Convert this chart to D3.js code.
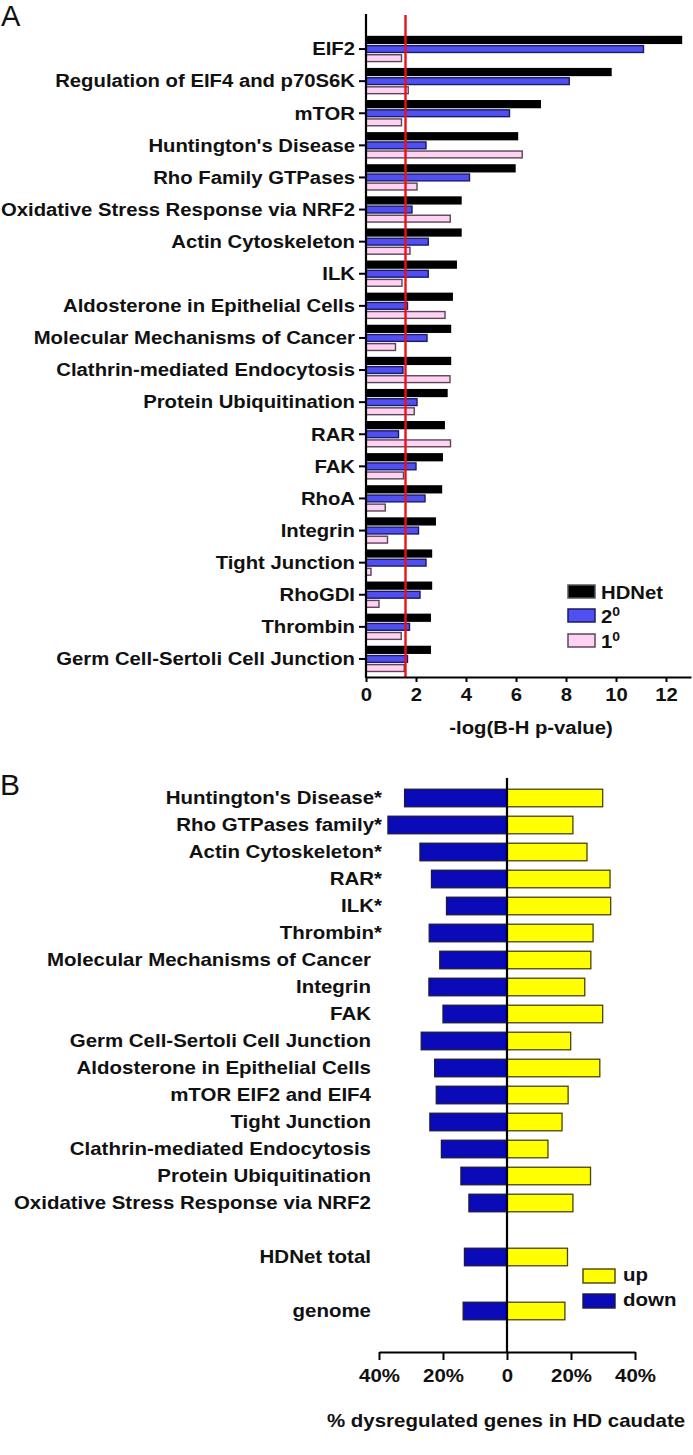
<!DOCTYPE html>
<html>
<head>
<meta charset="utf-8">
<script src="https://cdn.jsdelivr.net/npm/d3@7"></script>
<style>
  html, body { margin: 0; padding: 0; background: #fff; }
  svg { display: block; }
  text { font-family: "Liberation Sans", Arial, Helvetica, sans-serif; font-weight: bold; fill: #111; }
</style>
</head>
<body>
<svg id="chart" width="693" height="1455"></svg>
<script>
// ---------- Panel A data ----------
const pathwaysA = ["EIF2", "Regulation of EIF4 and p70S6K", "mTOR", "Huntington's Disease",
  "Rho Family GTPases", "Oxidative Stress Response via NRF2", "Actin Cytoskeleton", "ILK",
  "Aldosterone in Epithelial Cells", "Molecular Mechanisms of Cancer", "Clathrin-mediated Endocytosis",
  "Protein Ubiquitination", "RAR", "FAK", "RhoA", "Integrin", "Tight Junction", "RhoGDI",
  "Thrombin", "Germ Cell-Sertoli Cell Junction"];
const hdnetVals = [12.65, 9.83, 7.0, 6.09, 5.99, 3.83, 3.83, 3.64, 3.48, 3.41, 3.41, 3.27, 3.16, 3.08, 3.05, 2.8, 2.65, 2.65, 2.6, 2.6];
const secondaryVals = [11.13, 8.16, 5.77, 2.43, 4.17, 1.87, 2.52, 2.52, 1.69, 2.47, 1.51, 2.07, 1.33, 2.03, 2.39, 2.13, 2.43, 2.19, 1.77, 1.69];
const primaryVals = [1.45, 1.72, 1.45, 6.28, 2.07, 3.4, 1.79, 1.47, 3.19, 1.21, 3.39, 1.96, 3.41, 1.53, 0.8, 0.89, 0.23, 0.55, 1.44, 1.56];
const seriesA = ["HDNet", "2", "1"];
const ticksA = [0, 2, 4, 6, 8, 10, 12];
const thresholdA = 1.58;
const titleA = "-log(B-H p-value)";

// ---------- Panel B data ----------
const pathwaysB = ["Huntington's Disease*", "Rho GTPases family*", "Actin Cytoskeleton*", "RAR*", "ILK*",
  "Thrombin*", "Molecular Mechanisms of Cancer", "Integrin", "FAK", "Germ Cell-Sertoli Cell Junction",
  "Aldosterone in Epithelial Cells", "mTOR EIF2 and EIF4", "Tight Junction", "Clathrin-mediated Endocytosis",
  "Protein Ubiquitination", "Oxidative Stress Response via NRF2", "", "HDNet total", "", "genome"];
const downVals = [32.0, 37.2, 27.2, 23.6, 18.9, 24.3, 21.0, 24.4, 20.0, 26.8, 22.6, 22.1, 24.1, 20.5, 14.4, 11.9, null, 13.3, null, 13.7];
const upVals = [29.9, 20.6, 25.0, 32.2, 32.4, 26.9, 26.2, 24.3, 29.9, 19.9, 29.0, 19.1, 17.2, 12.8, 26.1, 20.6, null, 18.9, null, 18.1];
const ticksB = [-40, -20, 0, 20, 40];
const titleB = "% dysregulated genes in HD caudate";

// ---------- styling ----------
const SX = 1.16, FS = 17.5, SXB = 1.17;
const colA = { "HDNet": "#000000", "2": "#4f4ff2", "1": "#ffd2f4" };
const strokeA = { "HDNet": "#000000", "2": "#1b1b66", "1": "#5a4656" };
const colUp = "#ffff00", strokeUp = "#4a4400";
const colDown = "#0a0ab8", strokeDown = "#1a1a40";

const svg = d3.select("#chart");

function stext(g, x, y, str, anchor, size, sx) {
  return g.append("text")
    .attr("transform", `translate(${x},${y}) scale(${sx || SX},1)`)
    .attr("text-anchor", anchor || "start")
    .style("font-size", (size || FS) + "px")
    .text(str);
}

// ================= Panel A =================
const gA = svg.append("g");
svg.append("text").attr("x", 1).attr("y", 26).style("font-size", "29px").style("font-weight", "normal").text("A");

const xA = d3.scaleLinear().domain([0, 13]).range([366, 691]);
const yA = d3.scaleBand().domain(pathwaysA).range([33, 675]).paddingInner(0.22).paddingOuter(0.11);
const ySub = d3.scaleBand().domain(seriesA).range([0, yA.bandwidth()]).paddingInner(0.25);

const rowsA = pathwaysA.map((p, i) => ({ p, vals: { "HDNet": hdnetVals[i], "2": secondaryVals[i], "1": primaryVals[i] } }));

const grp = gA.selectAll("g.row").data(rowsA).join("g")
  .attr("transform", d => `translate(0,${yA(d.p)})`);
grp.selectAll("rect").data(d => seriesA.map(s => ({ s, v: d.vals[s] }))).join("rect")
  .attr("x", xA(0))
  .attr("y", d => ySub(d.s))
  .attr("width", d => Math.max(0, xA(d.v) - xA(0) - 0.75))
  .attr("height", ySub.bandwidth())
  .attr("fill", d => colA[d.s])
  .attr("stroke", d => strokeA[d.s])
  .attr("stroke-width", 1.4);

// red threshold line
gA.append("line")
  .attr("x1", xA(thresholdA)).attr("x2", xA(thresholdA))
  .attr("y1", 15).attr("y2", 677)
  .attr("stroke", "#e8121a").attr("stroke-width", 2.4);

// y axis A
const axA = gA.append("g").attr("transform", `translate(${xA(0)},0)`)
  .call(d3.axisLeft(yA).tickSize(7).tickSizeOuter(0));
axA.select(".domain").remove();
axA.selectAll(".tick line").attr("stroke", "#000").attr("stroke-width", 2);
axA.selectAll(".tick text")
  .attr("x", -11 / SX).attr("dy", "0.36em")
  .attr("transform", `scale(${SX},1)`)
  .style("font-size", FS + "px").style("font-family", null).attr("fill", "#111");
gA.append("line").attr("x1", xA(0)).attr("x2", xA(0)).attr("y1", 14).attr("y2", 678)
  .attr("stroke", "#000").attr("stroke-width", 2.2);

// x axis A
const bxA = gA.append("g").attr("transform", "translate(0,677)")
  .call(d3.axisBottom(xA).tickValues(ticksA).tickSize(5).tickSizeOuter(0).tickPadding(7).tickFormat(d3.format("d")));
bxA.select(".domain").attr("stroke", "#000").attr("stroke-width", 2.2);
bxA.selectAll(".tick line").attr("stroke", "#000").attr("stroke-width", 2);
bxA.selectAll(".tick text").attr("transform", `scale(${SX},1)`)
  .style("font-size", FS + "px").style("font-family", null).attr("fill", "#111");

stext(gA, 531, 734, titleA, "middle");

// legend A
const legA = [{ s: "HDNet", y: 585 }, { s: "2", y: 609 }, { s: "1", y: 634 }];
legA.forEach(l => {
  gA.append("rect").attr("x", 568).attr("y", l.y).attr("width", 27).attr("height", 13)
    .attr("fill", colA[l.s]).attr("stroke", l.s === "HDNet" ? "#555" : strokeA[l.s]).attr("stroke-width", 1.5);
  const t = stext(gA, 601, l.y + 14, "", "start");
  if (l.s === "HDNet") t.text("HDNet");
  else {
    t.append("tspan").text(l.s);
    t.append("tspan").attr("dy", -7).style("font-size", "12px").text("0");
  }
});

// ================= Panel B =================
const gB = svg.append("g");
svg.append("text").attr("x", 0).attr("y", 795).style("font-size", "30px").style("font-weight", "normal").text("B");

const xB = d3.scaleLinear().domain([-40, 40]).range([379, 635]);
const yB = d3.scaleBand().domain(d3.range(pathwaysB.length)).range([784.5, 784.5 + 27 * pathwaysB.length])
  .paddingInner(0.35).paddingOuter(0.175);

const rowsB = pathwaysB.map((p, i) => ({ p, i, down: downVals[i], up: upVals[i] }));

gB.selectAll("rect.down").data(rowsB.filter(d => d.down != null)).join("rect")
  .attr("class", "down")
  .attr("x", d => xB(-d.down)).attr("y", d => yB(d.i))
  .attr("width", d => xB(0) - xB(-d.down)).attr("height", yB.bandwidth())
  .attr("fill", colDown).attr("stroke", strokeDown).attr("stroke-width", 1.3);
gB.selectAll("rect.up").data(rowsB.filter(d => d.up != null)).join("rect")
  .attr("class", "up")
  .attr("x", xB(0)).attr("y", d => yB(d.i))
  .attr("width", d => xB(d.up) - xB(0)).attr("height", yB.bandwidth())
  .attr("fill", colUp).attr("stroke", strokeUp).attr("stroke-width", 1.3);

// labels B
rowsB.filter(d => d.p !== "").forEach(d => {
  const starred = d.p.endsWith("*");
  stext(gB, starred ? 382 : 371, yB(d.i) + yB.bandwidth() / 2 + 6, d.p, "end", FS, SXB);
});

// center axis
gB.append("line").attr("x1", xB(0)).attr("x2", xB(0)).attr("y1", 778).attr("y2", 1352)
  .attr("stroke", "#000").attr("stroke-width", 2.2);

// x axis B
const bxB = gB.append("g").attr("transform", "translate(0,1352)")
  .call(d3.axisBottom(xB).tickValues(ticksB).tickSize(8).tickSizeOuter(0).tickPadding(10)
    .tickFormat(d => d === 0 ? "0" : Math.abs(d) + "%"));
bxB.select(".domain").attr("stroke", "#000").attr("stroke-width", 2.2);
bxB.selectAll(".tick line").attr("stroke", "#000").attr("stroke-width", 2);
bxB.selectAll(".tick text").attr("transform", `scale(${SXB},1)`)
  .style("font-size", FS + "px").style("font-family", null).attr("fill", "#111");

stext(gB, 506, 1427, titleB, "middle", FS, SXB);

// legend B
[{ lab: "up", fill: colUp, st: strokeUp, y: 1269 }, { lab: "down", fill: colDown, st: strokeDown, y: 1294 }].forEach(l => {
  gB.append("rect").attr("x", 583).attr("y", l.y).attr("width", 32).attr("height", 14)
    .attr("fill", l.fill).attr("stroke", l.st).attr("stroke-width", 1.4);
  stext(gB, 623, l.y + 12, l.lab, "start", FS, SXB);
});
</script>
</body>
</html>
